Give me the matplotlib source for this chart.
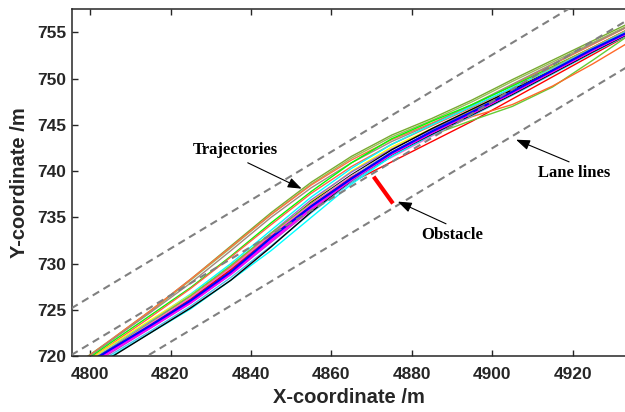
import matplotlib
matplotlib.use('Agg')
import matplotlib.pyplot as plt

# sample positions along the road (x) shared by all trajectories
traj_x = [4795, 4805, 4815, 4825, 4835, 4845, 4855, 4865, 4875, 4885, 4895, 4905, 4915, 4925, 4935]

# y of each trajectory at traj_x
traj_y = [
    [718.6, 721.7, 724.9, 728.3, 731.9, 735.5, 738.8, 741.6, 743.9, 745.7, 747.7, 749.9, 752.0, 754.1, 756.2],
    [718.5, 721.6, 724.8, 728.2, 731.7, 735.3, 738.6, 741.4, 743.7, 745.5, 747.5, 749.7, 751.8, 753.9, 756.0],
    [718.5, 721.7, 724.9, 728.3, 731.8, 735.3, 738.5, 741.2, 743.4, 745.2, 747.1, 749.3, 751.5, 753.7, 755.9],
    [718.4, 721.6, 724.7, 727.9, 731.4, 735.0, 738.2, 740.9, 743.2, 745.1, 747.2, 749.4, 751.6, 753.8, 755.9],
    [718.3, 721.4, 724.4, 727.4, 730.8, 734.4, 737.8, 740.9, 743.5, 745.4, 747.2, 749.2, 751.3, 753.4, 755.6],
    [718.2, 721.2, 724.2, 727.3, 730.7, 734.2, 737.6, 740.5, 742.9, 744.9, 746.9, 749.0, 751.2, 753.4, 755.6],
    [718.1, 721.0, 723.8, 726.7, 730.0, 733.6, 737.2, 740.3, 742.9, 745.0, 747.0, 749.0, 751.1, 753.3, 755.5],
    [718.2, 721.1, 723.9, 726.6, 729.6, 733.0, 736.7, 740.0, 742.6, 744.6, 746.6, 748.8, 751.0, 753.2, 755.4],
    [718.0, 720.9, 723.7, 726.5, 729.7, 733.3, 736.9, 739.9, 742.4, 744.5, 746.5, 748.6, 750.8, 753.0, 755.3],
    [718.0, 720.8, 723.5, 726.2, 729.4, 733.1, 736.6, 739.6, 742.3, 744.6, 746.7, 748.8, 750.9, 753.1, 755.3],
    [718.1, 720.9, 723.6, 726.4, 729.5, 733.0, 736.5, 739.5, 742.1, 744.3, 746.4, 748.6, 750.9, 753.1, 755.4],
    [718.0, 720.6, 723.4, 726.2, 729.5, 733.0, 736.2, 738.8, 741.0, 743.2, 745.4, 747.8, 750.2, 752.6, 755.0],
    [718.1, 720.8, 723.6, 726.5, 729.8, 733.3, 736.5, 739.2, 741.7, 743.9, 745.5, 747.0, 749.1, 752.0, 755.0],
    [718.0, 720.7, 723.4, 726.3, 729.6, 733.1, 736.4, 739.2, 741.8, 744.0, 745.9, 747.2, 749.2, 751.6, 754.2],
    [718.0, 720.7, 723.5, 726.3, 729.5, 733.1, 736.4, 739.4, 741.5, 743.8, 746.0, 748.3, 750.6, 752.9, 755.2],
    [717.5, 720.1, 722.7, 725.4, 728.5, 731.9, 735.5, 738.8, 741.6, 743.9, 746.0, 748.2, 750.5, 752.8, 755.0],
    [717.4, 719.9, 722.5, 725.1, 728.2, 731.4, 735.0, 738.6, 741.6, 744.0, 746.1, 748.3, 750.6, 752.9, 755.1],
    [717.3, 719.8, 722.5, 725.2, 728.2, 731.8, 735.6, 739.0, 741.8, 744.0, 746.1, 748.3, 750.6, 752.9, 755.1],
    [717.7, 720.3, 723.0, 725.7, 728.8, 732.3, 735.8, 739.0, 741.8, 744.1, 746.2, 748.4, 750.7, 753.0, 755.2],
    [717.9, 720.6, 723.3, 726.1, 729.3, 732.8, 736.2, 739.3, 741.9, 744.2, 746.3, 748.5, 750.8, 753.1, 755.3],
    [717.9, 720.5, 723.1, 725.8, 728.9, 732.5, 736.0, 739.1, 741.9, 744.2, 746.3, 748.5, 750.8, 753.1, 755.2],
    [718.0, 720.7, 723.3, 726.0, 729.1, 732.8, 736.2, 739.2, 742.0, 744.3, 746.4, 748.6, 750.9, 753.2, 755.3],
]
traj_colors = ['#77ac30', '#9bbb59', '#ff7043', '#a08a80', '#00ff00', '#ff6347',
               '#00ffff', '#ffff00', '#9966cc', '#000000', '#c0c0c0', '#ff0000',
               '#66cc33', '#ff6929', '#ff66cc', '#4dbeee', '#00ffff', '#000000',
               '#cc33cc', '#ff0000', '#ff00ff', '#0000ff']
traj_widths = [1.0] * 19 + [1.0, 1.6, 1.6]

# lane lines (dashed)
lane_x = [4790, 4940]
lane_upper = [723.76, 763.06]
lane_middle = [718.71, 758.01]
lane_lower = [713.66, 752.96]

# obstacle segment
obst_x = [4870.5, 4875.3]
obst_y = [739.4, 736.5]

fig = plt.figure(figsize=(6.25, 4.12), dpi=100)
ax = fig.add_axes([0.1152, 0.1359, 0.8848, 0.8415])

for y, c, w in zip(traj_y, traj_colors, traj_widths):
    ax.plot(traj_x, y, color=c, lw=w)

for ly in (lane_upper, lane_middle, lane_lower):
    ax.plot(lane_x, ly, color='#808080', lw=1.5, dashes=(3.6, 2.4), zorder=5)

ax.plot(obst_x, obst_y, color='red', lw=3, solid_capstyle='butt', zorder=6)

ax.set_xlim(4795.5, 4933)
ax.set_ylim(720, 757.5)
ax.set_xticks([4800, 4820, 4840, 4860, 4880, 4900, 4920])
ax.set_yticks([720, 725, 730, 735, 740, 745, 750, 755])

tick_font = dict(family='Liberation Sans', weight='bold', size=12.5)
for lab in ax.get_xticklabels() + ax.get_yticklabels():
    lab.set_fontproperties(tick_font)
    lab.set_color('#262626')
ax.tick_params(axis='x', direction='in', top=True, length=4.5, width=1, pad=8, color='#262626')
ax.tick_params(axis='y', direction='in', length=4.5, width=1, pad=4, color='#262626')
ax.spines['right'].set_visible(False)
for s in ('top', 'bottom', 'left'):
    ax.spines[s].set_linewidth(1.1)
    ax.spines[s].set_color('#262626')

label_font = dict(family='Liberation Sans', weight='bold', size=14.5, color='#262626')
ax.set_xlabel('X-coordinate /m', labelpad=4, **label_font)
ax.set_ylabel('Y-coordinate /m', labelpad=6, **label_font)

note_font = dict(family='Liberation Serif', weight='bold', size=12, ha='center', va='center')
arrow = dict(arrowstyle='-|>,head_length=0.6,head_width=0.22', color='black', lw=0.8,
             mutation_scale=14, shrinkA=0, shrinkB=0)

ax.text(4836.2, 742.3, 'Trajectories', **note_font)
ax.annotate('', xy=(4852.6, 738.1), xytext=(4839.2, 740.9), arrowprops=arrow, zorder=7)

ax.text(4920.3, 739.8, 'Lane lines', **note_font)
ax.annotate('', xy=(4905.9, 743.4), xytext=(4919.1, 741.0), arrowprops=arrow, zorder=7)

ax.text(4890.1, 733.1, 'Obstacle', **note_font)
ax.annotate('', xy=(4876.5, 736.7), xytext=(4888.5, 734.3), arrowprops=arrow, zorder=7)

fig.savefig('out.png', dpi=100)
